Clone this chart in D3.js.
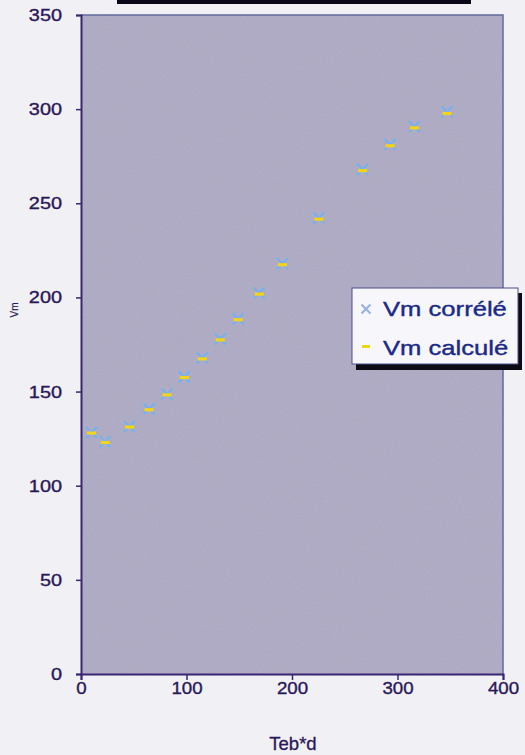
<!DOCTYPE html>
<html>
<head>
<meta charset="utf-8">
<script src="https://cdn.jsdelivr.net/npm/d3@7"></script>
<style>
  html, body { margin: 0; padding: 0; background: #f1f0f4; }
  svg { display: block; }
</style>
</head>
<body>
<div id="chart"></div>
<script>
// Teb*d against Vm: correlated and calculated values
const tebD       = [10, 23, 46, 64.5, 81.5, 98, 115, 132, 149, 169, 191, 225.5, 267, 293, 316, 347];
const vmCalcule  = [128, 123, 131.2, 140.4, 148.3, 157.5, 167.4, 177.5, 188.2, 201.8, 217.4, 241.6, 267.4, 280.6, 290.1, 297.7];
const vmCorrele  = [128.3, 123.4, 131.4, 140.8, 148.6, 157.8, 167.8, 178, 188.6, 202.4, 218, 242.2, 268, 281.2, 290.8, 298.6];
const xTicks = [0, 100, 200, 300, 400];
const yTicks = [0, 50, 100, 150, 200, 250, 300, 350];
const seriesNames = ["Vm corrélé", "Vm calculé"];

const W = 525, H = 755;
const plot = { left: 81, right: 503, top: 15, bottom: 674 };

const svg = d3.select("#chart").append("svg")
  .attr("width", W).attr("height", H);

const defs = svg.append("defs");
// fine grain over the plot fill
const grain = defs.append("filter").attr("id", "grain")
  .attr("x", 0).attr("y", 0).attr("width", 1).attr("height", 1);
grain.append("feTurbulence").attr("type", "fractalNoise")
  .attr("baseFrequency", 0.9).attr("numOctaves", 2).attr("seed", 3).attr("result", "n");
grain.append("feColorMatrix").attr("in", "n").attr("type", "matrix")
  .attr("values", "0 0 0 0 0.85  0 0 0 0 0.8  0 0 0 0 0.95  0 0 0 0.16 0").attr("result", "c");
grain.append("feComposite").attr("in", "c").attr("in2", "SourceGraphic").attr("operator", "in");
// slight softness on the markers
defs.append("filter").attr("id", "soft")
  .append("feGaussianBlur").attr("stdDeviation", 0.5);

const x = d3.scaleLinear().domain([0, 400]).range([plot.left, plot.right]);
const y = d3.scaleLinear().domain([0, 350]).range([plot.bottom, plot.top]);

// widen glyphs horizontally to a given factor
function stretch(sel, k) {
  sel.each(function () {
    const w = this.getComputedTextLength();
    d3.select(this).attr("textLength", w * k).attr("lengthAdjust", "spacingAndGlyphs");
  });
}

// title bar remnant at the top
svg.append("rect").attr("x", 117).attr("y", 0).attr("width", 354).attr("height", 4)
  .attr("fill", "#0a0618");

// plot area
svg.append("rect")
  .attr("x", plot.left).attr("y", plot.top)
  .attr("width", plot.right - plot.left).attr("height", plot.bottom - plot.top)
  .attr("fill", "#a9a6bf");
svg.append("rect")
  .attr("x", plot.left).attr("y", plot.top)
  .attr("width", plot.right - plot.left).attr("height", plot.bottom - plot.top)
  .attr("fill", "#ffffff").attr("filter", "url(#grain)");
// top and right frame
svg.append("path")
  .attr("d", `M${plot.left},${plot.top}H${plot.right}V${plot.bottom}`)
  .attr("fill", "none").attr("stroke", "#5f6a9c").attr("stroke-width", 1.5);

const axisColor = "#3b2474";
const textColor = "#2a1758";
const font = "Liberation Sans, Arial, sans-serif";

// y axis
const yAxis = svg.append("g").attr("transform", `translate(${plot.left},0)`)
  .call(d3.axisLeft(y).tickValues(yTicks).tickSize(5).tickPadding(14));
// x axis
const xAxis = svg.append("g").attr("transform", `translate(0,${plot.bottom})`)
  .call(d3.axisBottom(x).tickValues(xTicks).tickSize(6).tickPadding(2));

[yAxis, xAxis].forEach(g => {
  g.attr("font-size", null).attr("font-family", null);
  g.select(".domain").attr("stroke", axisColor).attr("stroke-width", 2);
  g.selectAll(".tick line").attr("stroke", axisColor).attr("stroke-width", 1.5);
  g.selectAll(".tick text").attr("fill", textColor)
    .style("font-family", font).style("font-size", "17px")
    .attr("stroke", textColor).attr("stroke-width", 0.35);
});
stretch(yAxis.selectAll(".tick text"), 1.17);
stretch(xAxis.selectAll(".tick text"), 1.1);

// axis titles
svg.append("text").attr("x", 293).attr("y", 750).attr("text-anchor", "middle")
  .style("font-family", font).style("font-size", "18.5px").attr("fill", textColor)
  .attr("stroke", textColor).attr("stroke-width", 0.3).text("Teb*d");
svg.append("text").attr("transform", "translate(18,310) rotate(-90)")
  .attr("text-anchor", "middle").style("font-family", font).style("font-size", "10px")
  .attr("fill", textColor).attr("stroke", textColor).attr("stroke-width", 0.2).text("Vm");

const blue = "#78b0ee", yellow = "#f3d414";

// Vm corrélé: x markers
const xMark = (cx, cy, r) => `M${cx - r},${cy - r}L${cx + r},${cy + r}M${cx - r},${cy + r}L${cx + r},${cy - r}`;
svg.append("g").attr("filter", "url(#soft)").selectAll("path").data(tebD).join("path")
  .attr("d", (d, i) => xMark(x(d), y(vmCorrele[i]), 5.5))
  .attr("stroke", blue).attr("stroke-width", 2.2).attr("fill", "none");

// Vm calculé: short dashes
svg.append("g").attr("filter", "url(#soft)").selectAll("rect").data(tebD).join("rect")
  .attr("x", d => x(d) - 4.5).attr("y", (d, i) => y(vmCalcule[i]) - 1.5)
  .attr("width", 9).attr("height", 3.2).attr("fill", yellow);

// legend
const lg = svg.append("g").attr("transform", "translate(352,288)");
lg.append("rect").attr("x", 4).attr("y", 5).attr("width", 166).attr("height", 77).attr("fill", "#0c0a14");
lg.append("rect").attr("x", 0).attr("y", 0).attr("width", 166).attr("height", 76)
  .attr("fill", "#f7f7fb").attr("stroke", "#4d4f86").attr("stroke-width", 1);
lg.append("path").attr("d", xMark(14, 21, 4.5)).attr("stroke", "#9ab4dc")
  .attr("stroke-width", 2.2).attr("fill", "none");
lg.append("rect").attr("x", 10).attr("y", 57).attr("width", 8).attr("height", 3).attr("fill", yellow);
const lgText = lg.selectAll("text.lbl").data(seriesNames).join("text").attr("class", "lbl")
  .attr("x", 31).attr("y", (d, i) => 28 + i * 39)
  .style("font-family", font).style("font-size", "21px").attr("fill", "#1b2a86")
  .attr("stroke", "#1b2a86").attr("stroke-width", 0.4).text(d => d);
stretch(lgText, 1.22);
</script>
</body>
</html>
